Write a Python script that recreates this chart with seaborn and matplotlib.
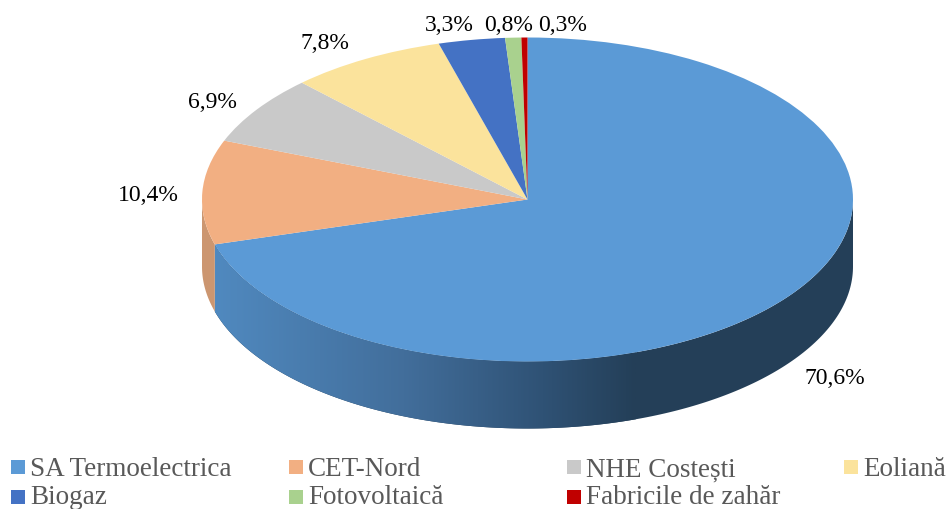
import numpy as np
import matplotlib
matplotlib.use("Agg")
import matplotlib.pyplot as plt
from matplotlib.colors import LinearSegmentedColormap
from matplotlib.patches import Polygon, Rectangle
import seaborn as sns

categories = ["SA Termoelectrica", "CET-Nord", "NHE Costești", "Eoliană",
              "Biogaz", "Fotovoltaică", "Fabricile de zahăr"]
values = [70.6, 10.4, 6.9, 7.8, 3.3, 0.8, 0.3]
colors = ["#5B9AD6", "#F2AF82", "#C9C9C9", "#FBE39C", "#4472C4", "#A9D18E", "#C00000"]

W, H = 948, 510
CX, CY, RX, RY, DEPTH = 527.5, 200.5, 325.5, 162, 67

sns.set_theme(style="white")
plt.rcParams["font.family"] = ["Liberation Serif", "DejaVu Serif"]
palette = sns.color_palette(colors)

fig = plt.figure(figsize=(W / 100, H / 100), dpi=100)
ax = fig.add_axes([0, 0, 1, 1])

# top of the pie, squeezed into an ellipse
wedges, _ = ax.pie(values, colors=palette, startangle=90, counterclock=False,
                   wedgeprops={"linewidth": 0}, radius=1)
for w in wedges:
    w.set_zorder(2)
ax.set_aspect("auto")

# wall below the pie
depth = DEPTH / RY
ends = 90 - np.cumsum(values) / np.sum(values) * 360


def wall(th1, th2):
    th = np.radians(np.linspace(th1, th2, 200))
    x, y = np.cos(th), np.sin(th)
    return np.r_[np.c_[x, y], np.c_[x, y - depth][::-1]]


wall_cmap = LinearSegmentedColormap.from_list(
    "wall", [(0, "#5089BF"), (0.45, "#426E9B"), (0.78, "#2F5275"), (1, "#243F58")])
grad_x = np.linspace(0, 1, 512).reshape(1, -1)
# gradient runs from the left end of the wall to about x=635 px, then stays flat
left = np.cos(np.radians(ends[0]))
flat = (635 - CX) / RX
blue_wall = Polygon(wall(0, ends[0]), closed=True, facecolor="#243F58", edgecolor="none", zorder=0.9)
ax.add_patch(blue_wall)
im = ax.imshow(grad_x, cmap=wall_cmap, extent=(left, flat, -2, 1), aspect="auto", zorder=1)
im.set_clip_path(blue_wall)
ax.add_patch(Polygon(wall(ends[0], -180), closed=True, facecolor="#CC9670",
                     edgecolor="none", zorder=0.9))
ax.set_xlim(-CX / RX, (W - CX) / RX)
ax.set_ylim(-(H - CY) / RY, CY / RY)
ax.axis("off")

# overlay in pixel coordinates for labels and legend
over = fig.add_axes([0, 0, 1, 1], facecolor="none")
over.set_xlim(0, W)
over.set_ylim(H, 0)
over.axis("off")

label_x = [835, 148.5, 212, 325, 449, 509, 563]
label_y = [384, 201, 108, 49, 31, 31, 31]
for v, x, y in zip(values, label_x, label_y):
    over.text(x, y, f"{v:.1f}%".replace(".", ","), ha="center", va="baseline",
              fontsize=17, color="black")

legend_x = [11, 289, 567, 844]
legend_y = [468, 498]
legend_base = [476.5, 504.5]
for i, (name, c) in enumerate(zip(categories, palette)):
    lx = legend_x[i % 4]
    ly = legend_y[i // 4]
    over.add_patch(Rectangle((lx, ly - 7), 14, 14, facecolor=c, edgecolor="none"))
    over.text(lx + 19, legend_base[i // 4], name, ha="left", va="baseline",
              fontsize=19.5, color="#595959")

fig.savefig("out.png", dpi=100)
